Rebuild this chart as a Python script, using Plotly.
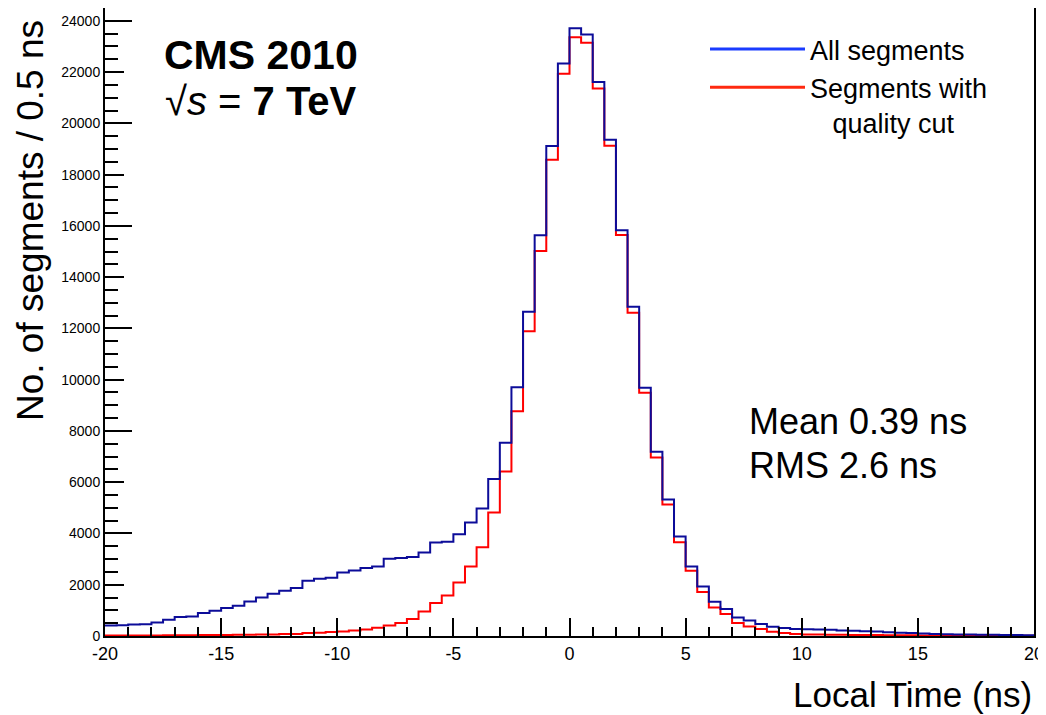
import numpy as np
import plotly.graph_objects as go

# ---- data ----
x_min, x_max, bin_width = -20.0, 20.0, 0.5
all_segments = [414, 420, 453, 460, 531, 635, 739, 765, 895, 986, 1091, 1181, 1350, 1506, 1649,
                1766, 1870, 2156, 2234, 2273, 2481, 2558, 2649, 2714, 3013, 3039, 3078, 3260, 3649,
                3675, 3974, 4428, 4974, 6129, 7544, 9700, 12647, 15634, 19114, 22336, 23714, 23466,
                21609, 19363, 15830, 12842, 9686, 7190, 5330, 3881, 2712, 1933, 1336, 1051, 725,
                608, 467, 362, 312, 273, 260, 250, 240, 215, 200, 190, 180, 150, 130, 117, 100,
                80, 70, 60, 55, 50, 45, 40, 35, 30]
quality_cut = [15, 15, 18, 20, 22, 25, 28, 30, 35, 38, 42, 45, 50, 55, 60, 76, 80, 117, 125, 156,
               175, 218, 250, 320, 414, 505, 661, 960, 1285, 1584, 2090, 2714, 3467, 4817, 6413,
               8766, 11894, 15023, 18583, 21934, 23363, 23142, 21362, 19129, 15646, 12608, 9491,
               6965, 5130, 3662, 2544, 1714, 1114, 857, 506, 374, 273, 168, 117, 78, 60, 55, 50,
               45, 40, 38, 35, 30, 28, 25, 22, 20, 18, 15, 15, 12, 10, 10, 8, 8]
series_names = ["All segments", "Segments with<br>\u00a0\u00a0\u00a0quality cut"]
x_tick_vals = [-20, -15, -10, -5, 0, 5, 10, 15, 20]
x_tick_text = ["-20", "-15", "-10", "-5", "0", "5", "10", "15", "20"]
y_max = 24500
stats_text = ["Mean 0.39 ns", "RMS 2.6 ns"]

edges = np.arange(x_min, x_max + bin_width / 2, bin_width)

FONT = "Liberation Sans, Arial, Helvetica, sans-serif"
HIST_BLUE = "#0c0c99"
HIST_RED = "#ff0000"
LEG_BLUE = "#1a3cff"
LEG_RED = "#ff2a10"

fig = go.Figure()

def step_trace(vals, color):
    return go.Scatter(x=edges, y=list(vals) + [vals[-1]], mode="lines",
                      line=dict(color=color, width=2, shape="hv"),
                      showlegend=False, hoverinfo="skip")

fig.add_trace(step_trace(quality_cut, HIST_RED))
fig.add_trace(step_trace(all_segments, HIST_BLUE))

# legend entries
fig.add_trace(go.Scatter(x=[None], y=[None], mode="lines", name=series_names[0],
                         line=dict(color=LEG_BLUE, width=3)))
fig.add_trace(go.Scatter(x=[None], y=[None], mode="lines", name=series_names[1],
                         line=dict(color=LEG_RED, width=3)))
# dummy for overlay axis (long ticks)
fig.add_trace(go.Scatter(x=[None], y=[None], yaxis="y2", showlegend=False, hoverinfo="skip"))

# The page body adds an 8px offset; size the figure so it lands on the 1046x715 frame.
OFF = 8
W, H = 1046 - OFF, 715 - OFF
# plot frame in screen pixels: x 105..1034, y 8..636
FX0, FX1, FY0, FY1 = 105, 1034, 8, 636
L, T = FX0 - OFF, FY0 - OFF
R = W - (FX1 - OFF)
B = H - (FY1 - OFF)
pw, ph = FX1 - FX0, FY1 - FY0

def px(p):
    return (p - FX0) / pw

def py(p):
    return (FY1 - p) / ph

fig.update_layout(
    width=W, height=H,
    margin=dict(l=L, r=R, t=T, b=B, autoexpand=False),
    paper_bgcolor="white", plot_bgcolor="white",
    font=dict(family=FONT, color="black"),
    xaxis=dict(range=[x_min, x_max], showgrid=False, zeroline=False, automargin=False,
               showline=True, linecolor="black", linewidth=2, mirror=True,
               ticks="inside", ticklen=18, tickwidth=1.5, tickcolor="black",
               tickmode="array", tickvals=x_tick_vals, ticktext=x_tick_text,
               tickfont=dict(size=18, family=FONT),
               minor=dict(dtick=1, ticks="inside", ticklen=9, tickwidth=1.5, tickcolor="black")),
    yaxis=dict(range=[0, y_max], showgrid=False, zeroline=False, automargin=False,
               showline=True, linecolor="black", linewidth=2, mirror=True,
               ticks="inside", ticklen=19, tickwidth=1.5, tickcolor="black",
               dtick=2000, tick0=0, tickformat="d",
               tickfont=dict(size=14, family=FONT),
               minor=dict(dtick=500, ticks="inside", ticklen=13, tickwidth=1.5, tickcolor="black")),
    yaxis2=dict(range=[0, y_max], overlaying="y", side="left", anchor="x", automargin=False,
                showgrid=False, zeroline=False, showline=False,
                ticks="inside", ticklen=27, tickwidth=1.5, tickcolor="black",
                dtick=4000, tick0=0, showticklabels=False),
    showlegend=True,
    legend=dict(x=px(705), y=py(25), xanchor="left", yanchor="top",
                bgcolor="rgba(0,0,0,0)", borderwidth=0,
                font=dict(size=27, family=FONT), itemwidth=95,
                valign="top", tracegroupgap=0),
)

ann = [
    dict(text="<b>CMS 2010</b>", x=px(162), y=py(55), xanchor="left", yanchor="middle",
         font=dict(size=41, family=FONT)),
    dict(text="\u221a<i>s</i> = <b>7 TeV</b>", x=px(163), y=py(101), xanchor="left", yanchor="middle",
         font=dict(size=40, family=FONT)),
    dict(text=stats_text[0], x=px(747), y=py(421), xanchor="left", yanchor="middle",
         font=dict(size=36, family=FONT)),
    dict(text=stats_text[1], x=px(747), y=py(465), xanchor="left", yanchor="middle",
         font=dict(size=36, family=FONT)),
    dict(text="Local Time (ns)", x=px(1034), y=py(694), xanchor="right", yanchor="middle",
         font=dict(size=35, family=FONT)),
    dict(text="No. of segments / 0.5 ns", x=px(8), y=py(18), xanchor="left", yanchor="top",
         textangle=-90, font=dict(size=37, family=FONT)),
]
for a in ann:
    a.update(xref="paper", yref="paper", showarrow=False)
fig.update_layout(annotations=ann)

fig.write_html("out.html")
